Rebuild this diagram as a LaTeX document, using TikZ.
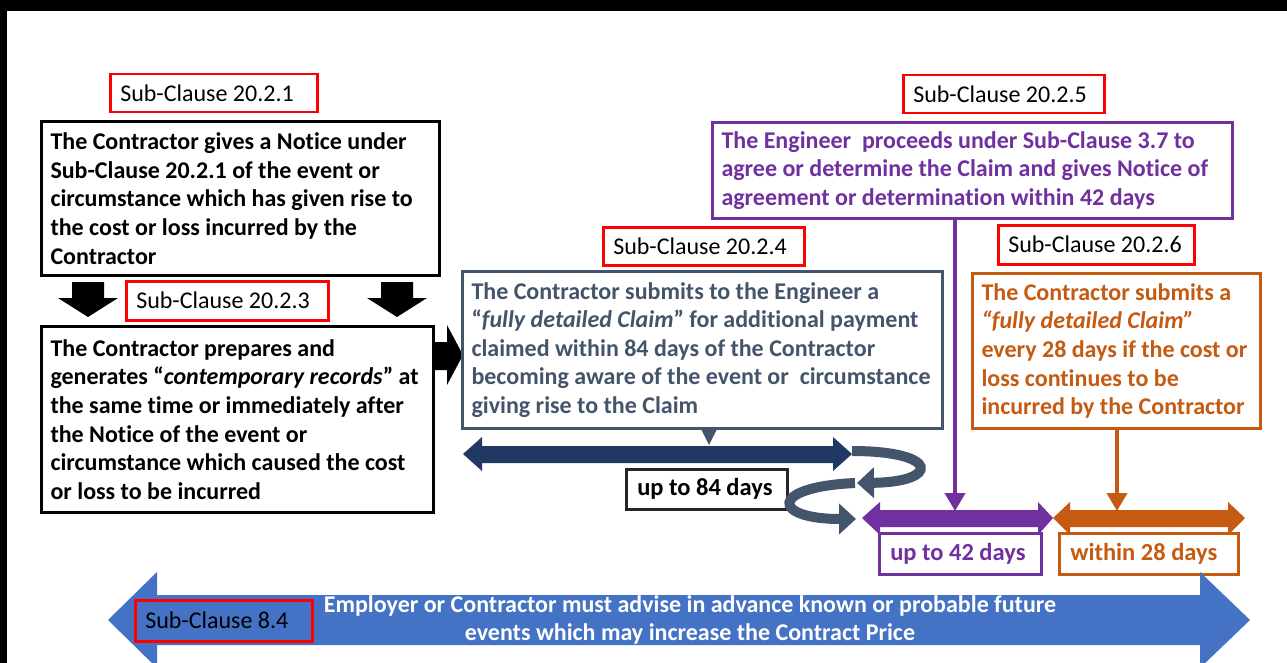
\documentclass[tikz,border=0pt]{standalone}
\usepackage{fontspec}
\setmainfont[Ligatures=NoCommon]{Carlito}
\usetikzlibrary{arrows.meta}
\definecolor{slate}{HTML}{44546A}
\definecolor{navy}{HTML}{203864}
\definecolor{purp}{HTML}{7030A0}
\definecolor{orng}{HTML}{C55A11}
\definecolor{blu}{HTML}{4472C4}
\definecolor{clauseRed}{HTML}{FF0000}
\tikzset{
  clause/.style={draw=clauseRed, line width=2.5pt, fill=white, anchor=north west,
    font=\fontsize{24}{28}\selectfont, text=black, align=flush left, inner xsep=10pt,
    inner ysep=0pt},
  bigbox/.style={line width=3pt, fill=white, anchor=north west, align=flush left,
    inner xsep=9pt, inner ysep=0pt,
    font=\fontsize{24}{28.6}\selectfont\bfseries},
  spanbox/.style={line width=2.5pt, fill=white, anchor=north west, align=flush left,
    inner xsep=11pt, inner ysep=0pt, font=\fontsize{24.5}{28}\selectfont\bfseries},
  curl/.style={draw=slate, line width=10pt,
    -{Triangle[width=30pt,length=17pt]}},
  droparrow/.style={line width=4pt, -{Triangle[width=20pt,length=18pt]}},
}
\begin{document}
\begin{tikzpicture}[x=1pt,y=-1pt]
\useasboundingbox (0,0) rectangle (1287,663);
\clip (0,0) rectangle (1287,663);
\fill[white] (0,0) rectangle (1287,663);
% frame strips
\fill[black] (0,0) rectangle (1287,11);
\fill[black] (0,0) rectangle (7,663);

% ---------- left column ----------
\node[clause, minimum width=207pt, minimum height=38pt, text width=187pt] (c201) at (109,73) {Sub-Clause 20.2.1};
\node[bigbox, draw=black, minimum width=398pt, minimum height=154pt, text width=380pt] (notice) at (40,120)
  {The Contractor gives a Notice under\\
   Sub-Clause 20.2.1 of the event or\\
   circumstance which has given rise to\\
   the cost or loss incurred by the\\
   Contractor};

% block arrows under the notice box
\fill[black] (72,282) -- (104,282) -- (104,298) -- (118,298) -- (88,317) -- (58,298) -- (72,298) -- cycle;
\fill[black] (381,282) -- (413,282) -- (413,298) -- (427,298) -- (397,317) -- (367,298) -- (381,298) -- cycle;
\node[clause, minimum width=202pt, minimum height=39pt, text width=182pt] (c203) at (125,280) {Sub-Clause 20.2.3};

\node[bigbox, draw=black, minimum width=392pt, minimum height=186pt, text width=374pt] (records) at (40,325)
  {The Contractor prepares and\\
   generates “\textit{contemporary records}” at\\
   the same time or immediately after\\
   the Notice of the event or\\
   circumstance which caused the cost\\
   or loss to be incurred};

% block arrow to the claim box
\fill[black] (432,342) -- (447,342) -- (447,325) -- (463,355) -- (447,385) -- (447,370) -- (432,370) -- cycle;

% ---------- claim (84 days) ----------
\node[clause, minimum width=201pt, minimum height=38pt, text width=181pt] (c204) at (602,226) {Sub-Clause 20.2.4};
\node[bigbox, draw=slate, text=slate, minimum width=480pt, minimum height=157pt, text width=462pt] (claim) at (461,270)
  {The Contractor submits to the Engineer a\\
   “\textit{fully detailed Claim}” for additional payment\\
   claimed within 84 days of the Contractor\\
   becoming aware of the event or\ \ circumstance\\
   giving rise to the Claim};
\fill[slate] (700,427) -- (718,427) -- (709,445) -- cycle;

% 84-day span
\fill[navy] (463,454) -- (482,437) -- (482,446) -- (833,446) -- (833,437) -- (852,454)
  -- (833,471) -- (833,463) -- (482,463) -- (482,471) -- cycle;
\node[spanbox, draw=black!85, minimum width=161pt, minimum height=40pt, text width=139pt] (d84) at (625,468) {up to 84 days};

% turning arrows
\coordinate (bStart) at (855,483);
\coordinate (bEnd) at (856,519);
\coordinate (aStart) at (852,451);
\coordinate (aEnd) at (857,483);
\draw[curl] (bStart) .. controls (768,487) and (772,519) .. (bEnd);
\draw[curl] (aStart) .. controls (940,451) and (940,482) .. (aEnd);

% ---------- engineer (42 days) ----------
\node[clause, minimum width=201pt, minimum height=38pt, text width=181pt] (c205) at (902,74) {Sub-Clause 20.2.5};
\node[bigbox, draw=purp, text=purp, minimum width=520pt, minimum height=96pt, text width=502pt] (engineer) at (711,121)
  {The Engineer\ \ proceeds under Sub-Clause 3.7 to\\
   agree or determine the Claim and gives Notice of\\
   agreement or determination within 42 days};

% ---------- continuing claims (28 days) ----------
\node[clause, minimum width=196pt, minimum height=39pt, text width=176pt] (c206) at (997,224) {Sub-Clause 20.2.6};
\node[bigbox, draw=orng, text=orng, minimum width=288pt, minimum height=155pt, text width=270pt] (interim) at (971,272)
  {The Contractor submits a\\
   \textit{“fully detailed Claim”}\\
   every 28 days if the cost or\\
   loss continues to be\\
   incurred by the Contractor};

% span arrows
\fill[purp] (862,518) -- (880,502) -- (880,510) -- (1038,510) -- (1038,502) -- (1053,518)
  -- (1038,535) -- (1038,527) -- (880,527) -- (880,535) -- cycle;
\fill[orng] (1053,518) -- (1070,502) -- (1070,510) -- (1228,510) -- (1228,502) -- (1245,518)
  -- (1228,535) -- (1228,527) -- (1070,527) -- (1070,535) -- cycle;
\coordinate (p42) at (955,511);
\coordinate (p28) at (1117,511);
\draw[droparrow, purp] (engineer.south -| p42) -- (p42);
\draw[droparrow, orng] (interim.south -| p28) -- (p28);

\node[spanbox, draw=purp, text=purp, minimum width=162pt, minimum height=41pt, text width=140pt] (d42) at (878,532) {up to 42 days};
\node[spanbox, draw=orng, text=orng, minimum width=179pt, minimum height=41pt, text width=157pt] (d28) at (1058,532) {within 28 days};

% ---------- advance warning band ----------
\fill[blu] (108,620) -- (157,572) -- (157,595) -- (1200,595) -- (1200,572) -- (1250,620)
  -- (1200,668) -- (1200,645) -- (157,645) -- (157,668) -- cycle;
\node[clause, fill=blu, minimum width=177pt, minimum height=41pt, text width=157pt] (c84) at (134,599) {Sub-Clause 8.4};
\node[align=center, text=white, inner sep=0pt, font=\fontsize{24}{28}\selectfont\bfseries] (warn) at (690,620)
  {Employer or Contractor must advise in advance known or probable future\\
   events which may increase the Contract Price};
\end{tikzpicture}
\end{document}
